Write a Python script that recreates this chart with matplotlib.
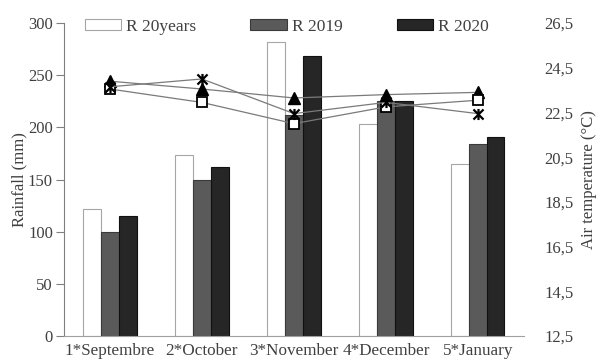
import matplotlib.pyplot as plt
import numpy as np
from matplotlib.path import Path

plt.rcParams['font.family'] = ['Liberation Serif', 'DejaVu Serif']

months = ['1*Septembre', '2*October', '3*November', '4*December', '5*January']

# rainfall (mm)
rain_20years = [122, 174, 282, 203, 165]
rain_2019 = [100, 150, 212, 225, 184]
rain_2020 = [115, 162, 268, 225, 191]

# air temperature (°C)
temp_20years = [23.9, 23.55, 23.15, 23.3, 23.4]
temp_2019 = [23.55, 22.95, 22.0, 22.75, 23.05]
temp_2020 = [23.65, 24.0, 22.45, 22.95, 22.45]

temp_ticks = [12.5, 14.5, 16.5, 18.5, 20.5, 22.5, 24.5, 26.5]

txt = '#404040'

# X with a vertical stroke, like the spreadsheet "star" marker
star = Path([(-1, -1), (1, 1), (-1, 1), (1, -1), (0, -1.1), (0, 1.1)],
            [Path.MOVETO, Path.LINETO, Path.MOVETO, Path.LINETO,
             Path.MOVETO, Path.LINETO])

fig = plt.figure(figsize=(5.98, 3.63), dpi=100)
ax = fig.add_axes([0.107, 0.0744, 0.769, 0.862])

x = np.arange(len(months))
w = 0.193
ax.bar(x - w, rain_20years, w, color='white', edgecolor='#a6a6a6', lw=0.8, label='R 20years')
ax.bar(x, rain_2019, w, color='#5a5a5a', edgecolor='#3a3a3a', lw=0.8, label='R 2019')
ax.bar(x + w, rain_2020, w, color='#262626', edgecolor='#111111', lw=0.8, label='R 2020')

ax.set_xlim(-0.5, len(months) - 0.5)
ax.set_ylim(0, 300)
ax.set_yticks(range(0, 301, 50))
ax.set_xticks(x)
ax.set_xticklabels(months)
ax.tick_params(axis='x', length=0, pad=5, labelsize=12.3, labelcolor=txt)
ax.tick_params(axis='y', direction='out', length=6, color='#808080', labelsize=12, labelcolor=txt, pad=2)
for s in ['top', 'right']:
    ax.spines[s].set_visible(False)
ax.spines['left'].set_color('#808080')
ax.spines['bottom'].set_color('#a0a0a0')
ax.set_ylabel('Rainfall (mm)', fontsize=12, color=txt, labelpad=0)

ax2 = ax.twinx()
ax2.set_ylim(12.5, 26.5)
ax2.set_yticks(temp_ticks)
ax2.set_yticklabels([f'{t:.1f}'.replace('.', ',') for t in temp_ticks])
ax2.tick_params(axis='y', length=0, pad=15, labelsize=12, labelcolor=txt)
for s in ax2.spines.values():
    s.set_visible(False)
ax2.set_ylabel('Air temperature (°C)', fontsize=12, color=txt, labelpad=5)

line_kw = dict(color='#7a7a7a', lw=0.9)
ax2.plot(x, temp_20years, marker='^', ms=8, mfc='black', mec='black', **line_kw)
ax2.plot(x, temp_2019, marker='s', ms=7, mfc='white', mec='black', mew=1.3, **line_kw)
ax2.plot(x, temp_2020, marker=star, ms=8, mfc='none', mec='black', mew=1.6, **line_kw)

ax.legend(loc='upper left', bbox_to_anchor=(0.03, 1.035), ncol=3, frameon=False,
          handlelength=2.1, handleheight=0.6, handletextpad=0.3, columnspacing=3.1,
          fontsize=12.5, labelcolor=txt, borderaxespad=0)

fig.savefig('out.png', dpi=100)
